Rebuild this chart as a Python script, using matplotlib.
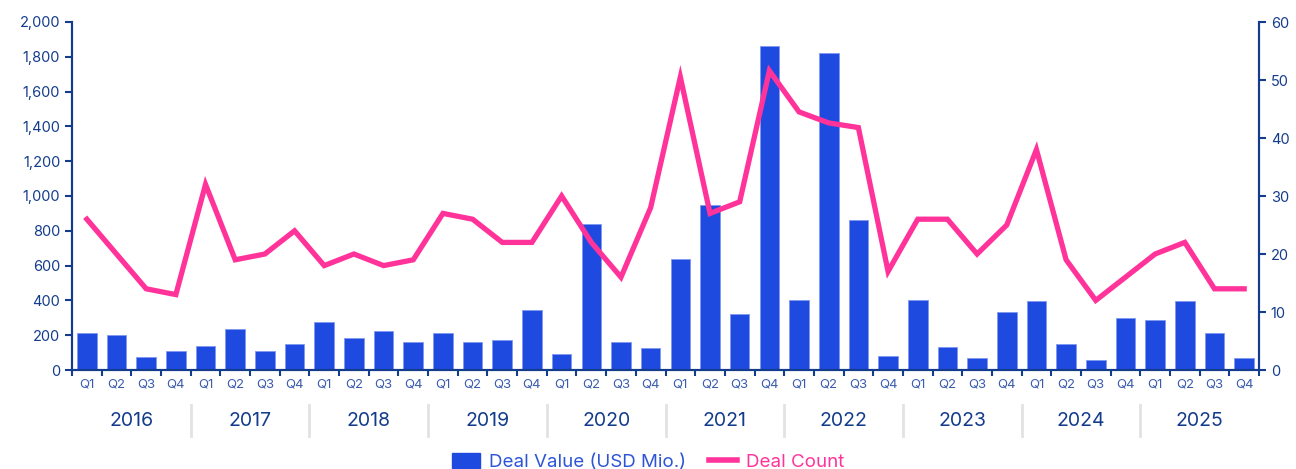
import numpy as np
import matplotlib.pyplot as plt
from matplotlib.lines import Line2D
from matplotlib.patches import Patch
from matplotlib.ticker import FuncFormatter

plt.rcParams['font.family'] = ['Inter', 'DejaVu Sans']

years = ['2016', '2017', '2018', '2019', '2020', '2021', '2022', '2023', '2024', '2025']
quarters = ['Q1', 'Q2', 'Q3', 'Q4']

deal_value = [
    215, 200, 76, 109,
    136, 234, 109, 150,
    274, 184, 224, 160,
    213, 161, 171, 347,
    92, 841, 163, 126,
    638, 950, 324, 1862,
    402, 1822, 862, 79,
    402, 130, 69, 331,
    397, 150, 56, 297,
    289, 398, 214, 67,
]
deal_count = [
    26, 20, 14, 13,
    32, 19, 20, 24,
    18, 20, 18, 19,
    27, 26, 22, 22,
    30, 22, 16, 28,
    50.5, 27, 29, 51.6,
    44.5, 42.6, 41.8, 17,
    26, 26, 20, 25,
    38, 19, 12, 16,
    20, 22, 14, 14,
]

navy = '#143c8c'
bar_color = '#1f4ae0'
pink = '#ff3399'

x = np.arange(len(deal_value))

fig = plt.figure(figsize=(12.96, 4.69), dpi=100)
ax = fig.add_axes([72 / 1296, 1 - 370 / 469, (1259 - 72) / 1296, 348 / 469])
ax2 = ax.twinx()

ax.bar(x, deal_value, width=0.66, color=bar_color, edgecolor='#7f98f0', linewidth=0.6, zorder=2)
ax2.plot(x, deal_count, color=pink, lw=3.8, solid_joinstyle='miter', zorder=3)

ax.set_xlim(-0.5, len(x) - 0.5)
ax.set_ylim(0, 2000)
ax2.set_ylim(0, 60)
ax.set_yticks(np.arange(0, 2001, 200))
ax2.set_yticks(np.arange(0, 61, 10))
ax.yaxis.set_major_formatter(FuncFormatter(lambda v, p: f'{int(v):,}'))

# tick marks at quarter boundaries, labels at centres
ax.set_xticks(np.arange(-0.5, len(x), 1))
ax.set_xticklabels([])
ax.set_xticks(x, minor=True)
ax.set_xticklabels([q for _ in years for q in quarters], minor=True)
ax.tick_params(axis='x', which='major', direction='out', length=4, width=1.5, color=navy)
ax.tick_params(axis='x', which='minor', length=0, pad=6, labelsize=9.5, labelcolor='#3a5cae')

ax.tick_params(axis='y', direction='out', length=5, width=1.5, color=navy, labelsize=10.5, labelcolor=navy)
ax2.tick_params(axis='y', direction='out', length=5, width=1.5, color=navy, labelsize=10.5, labelcolor=navy)

for a in (ax, ax2):
    a.spines['top'].set_visible(False)
    for s in ('left', 'right', 'bottom'):
        a.spines[s].set_color(navy)
        a.spines[s].set_linewidth(1.5)

# year labels and separators
trans = ax.get_xaxis_transform()
for i, yr in enumerate(years):
    ax.text(i * 4 + 1.5, -0.147, yr, transform=trans, ha='center', va='center',
            fontsize=14, color=navy)
    if i > 0:
        ax.plot([i * 4 - 0.5] * 2, [-0.10, -0.19], transform=trans, color='#e2e2e2',
                lw=2, clip_on=False)

handles = [Patch(facecolor=bar_color, edgecolor=bar_color),
           Line2D([0], [0], color=pink, lw=4)]
leg = fig.legend(handles, ['Deal Value (USD Mio.)', 'Deal Count'], loc='center',
                 bbox_to_anchor=(0.5, 1 - 462 / 469), ncol=2, frameon=False,
                 fontsize=13.5, handlelength=1.5, handleheight=0.9, columnspacing=1.2,
                 handletextpad=0.5)
leg.get_texts()[0].set_color('#2d55d6')
leg.get_texts()[1].set_color(pink)

fig.savefig('out.png', dpi=100)
